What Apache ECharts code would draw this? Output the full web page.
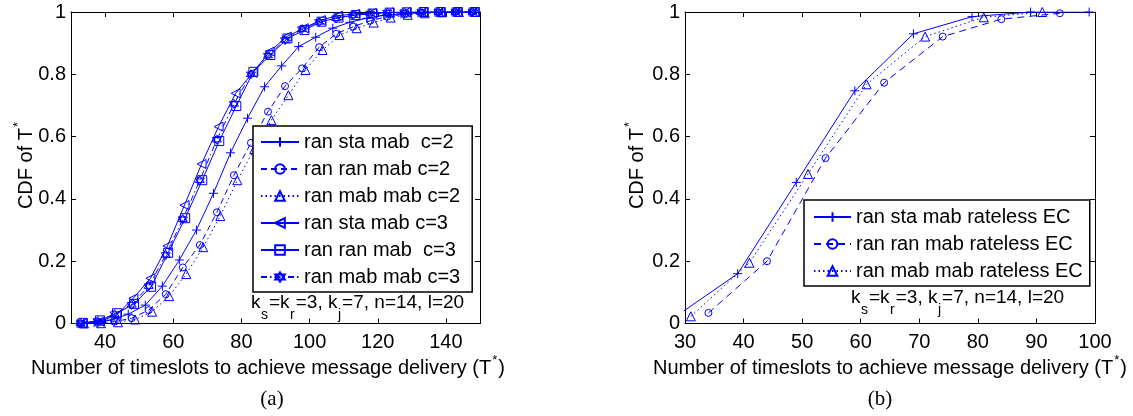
<!DOCTYPE html>
<html>
<head>
<meta charset="utf-8">
<script src="https://cdn.jsdelivr.net/npm/echarts@6/dist/echarts.min.js"></script>
<style>
  html, body { margin: 0; padding: 0; background: #fff; }
  #chart { width: 1133px; height: 416px; }
</style>
</head>
<body>
<div id="chart"></div>
<script>
// ---- (a) data: c=2 / c=3 curves ----
var namesA = ['ran sta mab  c=2', 'ran ran mab c=2', 'ran mab mab c=2',
              'ran sta mab c=3', 'ran ran mab  c=3', 'ran mab mab c=3'];

var xSta2 = [31.8, 36.8, 41.8, 46.8, 51.8, 56.8, 61.8, 66.8, 71.8, 76.8, 81.8, 86.8,
             91.8, 96.8, 101.8, 106.8, 111.8, 116.8, 121.8, 126.8, 131.8, 136.8, 141.8, 146.8];
var ySta2 = [0, 0.003, 0.011, 0.03, 0.059, 0.12, 0.204, 0.30, 0.418, 0.548, 0.659, 0.76,
             0.827, 0.889, 0.919, 0.948, 0.967, 0.98, 0.989, 0.994, 0.997, 0.999, 1, 1];

var xRan2 = [32.8, 37.8, 42.8, 47.8, 52.8, 57.8, 62.8, 67.8, 72.8, 77.8, 82.8, 87.8,
             92.8, 97.8, 102.8, 107.8, 112.8, 117.8, 122.8, 127.8, 132.8, 137.8, 142.8, 147.8];
var yRan2 = [0, 0.002, 0.006, 0.017, 0.043, 0.094, 0.18, 0.252, 0.357, 0.476, 0.58, 0.68,
             0.762, 0.819, 0.887, 0.93, 0.953, 0.972, 0.985, 0.993, 0.997, 0.999, 1, 1];

var xMab2 = [33.8, 38.8, 43.8, 48.8, 53.8, 58.8, 63.8, 68.8, 73.8, 78.8, 83.8, 88.8,
             93.8, 98.8, 103.8, 108.8, 113.8, 118.8, 123.8, 128.8, 133.8, 138.8, 143.8, 148.8];
var yMab2 = [0, 0.001, 0.004, 0.013, 0.038, 0.088, 0.159, 0.245, 0.345, 0.46, 0.56, 0.653,
             0.733, 0.814, 0.878, 0.926, 0.948, 0.966, 0.982, 0.991, 0.996, 0.999, 1, 1];

var xSta3 = [33.3, 38.3, 43.3, 48.3, 53.3, 58.3, 63.3, 68.3, 73.3, 78.3, 83.3, 88.3,
             93.3, 98.3, 103.3, 108.3, 113.3, 118.3, 123.3, 128.3, 133.3, 138.3, 143.3, 148.3];
var ySta3 = [0.001, 0.006, 0.027, 0.081, 0.145, 0.249, 0.38, 0.512, 0.632, 0.739, 0.805, 0.873,
             0.921, 0.948, 0.974, 0.988, 0.994, 0.997, 0.999, 1, 1, 1, 1, 1];

var xRan3 = [33.5, 38.5, 43.5, 48.5, 53.5, 58.5, 63.5, 68.5, 73.5, 78.5, 83.5, 88.5,
             93.5, 98.5, 103.5, 108.5, 113.5, 118.5, 123.5, 128.5, 133.5, 138.5, 143.5, 148.5];
var yRan3 = [0.002, 0.01, 0.033, 0.063, 0.118, 0.227, 0.338, 0.46, 0.586, 0.698, 0.808, 0.862,
             0.915, 0.942, 0.969, 0.982, 0.99, 0.995, 0.998, 0.999, 1, 1, 1, 1];

var xMab3 = [32.8, 37.8, 42.8, 47.8, 52.8, 57.8, 62.8, 67.8, 72.8, 77.8, 82.8, 87.8,
             92.8, 97.8, 102.8, 107.8, 112.8, 117.8, 122.8, 127.8, 132.8, 137.8, 142.8, 147.8];
var yMab3 = [0.001, 0.008, 0.03, 0.06, 0.12, 0.22, 0.335, 0.46, 0.59, 0.705, 0.8, 0.86,
             0.91, 0.945, 0.968, 0.98, 0.99, 0.995, 0.998, 0.999, 1, 1, 1, 1];

var xTicksA = [40, 60, 80, 100, 120, 140];

// ---- (b) data: rateless EC ----
var namesB = ['ran sta mab rateless EC', 'ran ran mab rateless EC', 'ran mab mab rateless EC'];

var xStaEC = [29, 39, 49, 59, 69, 79, 89, 99];
var yStaEC = [0.03, 0.16, 0.453, 0.747, 0.93, 0.985, 1, 1];

var xRanEC = [34, 44, 54, 64, 74, 84, 94];
var yRanEC = [0.034, 0.2, 0.531, 0.773, 0.921, 0.977, 0.996];

var xMabEC = [31, 41, 51, 61, 71, 81, 91];
var yMabEC = [0.023, 0.195, 0.48, 0.768, 0.921, 0.983, 1];

var yTicks = [0, 0.2, 0.4, 0.6, 0.8, 1];

// ---- styles ----
var BLUE = '#0000ff';
var FONT = 'Liberation Sans, Arial, Helvetica, sans-serif';
var PLUS = 'path://M0,5L10,5M5,0L5,10';
var TRI_L = 'path://M0,5L9,0L9,10Z';
var TRI_U = 'path://M5,0L10,9L0,9Z';
var HEXA = 'path://M5,0L9.33,7.5L0.67,7.5ZM5,10L0.67,2.5L9.33,2.5Z';

function zip(xs, ys) {
    return xs.map(function (x, i) { return [x, ys[i]]; });
}

function mkLine(name, xs, ys, symbol, dash, idx) {
    return {
        name: name,
        type: 'line',
        xAxisIndex: idx,
        yAxisIndex: idx,
        data: zip(xs, ys),
        symbol: symbol,
        symbolSize: symbol === 'circle' ? 7 : 9,
        showAllSymbol: true,
        clip: true,
        lineStyle: { color: BLUE, width: 1, type: dash },
        itemStyle: { color: 'rgba(0,0,0,0)', borderColor: BLUE, borderWidth: 1 },
        emphasis: { disabled: true }
    };
}

function xAxisPair(gi, min, max, interval, custom) {
    var tick = { inside: true, length: 5, lineStyle: { color: '#000' } };
    var lab = { color: '#000', fontSize: 20, fontFamily: FONT, margin: 9 };
    if (custom) { tick.customValues = custom; lab.customValues = custom; }
    var base = {
        type: 'value', gridIndex: gi, min: min, max: max, interval: interval,
        axisLine: { show: true, onZero: false, lineStyle: { color: '#000', width: 1 } },
        splitLine: { show: false }
    };
    var bottom = Object.assign({}, base, { position: 'bottom', axisTick: tick, axisLabel: lab });
    var top = Object.assign({}, base, { position: 'top', axisTick: tick, axisLabel: { show: false } });
    return [bottom, top];
}

function yAxisPair(gi) {
    var tick = { inside: true, length: 5, lineStyle: { color: '#000' } };
    var base = {
        type: 'value', gridIndex: gi, min: 0, max: 1, interval: 0.2,
        axisLine: { show: true, onZero: false, lineStyle: { color: '#000', width: 1 } },
        splitLine: { show: false }
    };
    var left = Object.assign({}, base, {
        position: 'left', axisTick: tick,
        axisLabel: { color: '#000', fontSize: 20, fontFamily: FONT, margin: 5,
                     customValues: yTicks, formatter: function (v) { return String(+v.toFixed(1)); } }
    });
    var right = Object.assign({}, base, { position: 'right', axisTick: tick, axisLabel: { show: false } });
    return [left, right];
}

var xa = xAxisPair(0, 30, 150, 10, xTicksA);
var xb = xAxisPair(1, 30, 100, 10, null);
var ya = yAxisPair(0);
var yb = yAxisPair(1);

// measure text so sub-scripted pieces can be chained left to right
var measureCtx = document.createElement('canvas').getContext('2d');
function textW(s, size) {
    measureCtx.font = size + 'px ' + FONT;
    return measureCtx.measureText(s).width;
}

// "k_s=k_r=3, k_j=7, n=14, l=20" as separate text pieces
function paramTexts(pieces, x0, yMain) {
    var out = [], x = x0;
    pieces.forEach(function (p, i) {
        var sub = i % 2 === 1;
        var size = sub ? 14 : 19;
        out.push({
            type: 'text', x: x, y: sub ? yMain + 12 : yMain, silent: true, z: 10,
            style: { text: p, fontSize: size, fontFamily: FONT, fill: '#000',
                     align: 'left', verticalAlign: 'middle' }
        });
        x += textW(p, size) + (sub ? 1 : 0.5);
    });
    return out;
}

function supText(main, tail, x, y, rot, size) {
    return {
        type: 'text', x: x, y: y, rotation: rot || 0, silent: true,
        style: {
            text: '{a|' + main + '}{b|*}{a|' + tail + '}',
            align: 'center', verticalAlign: 'middle',
            rich: {
                a: { fontSize: size, fontFamily: FONT, fill: '#000', lineHeight: 28 },
                b: { fontSize: 13, fontFamily: FONT, fill: '#000', lineHeight: 13, padding: [0, 1, 15, 1] }
            }
        }
    };
}

var paramPieces = ['k', 's', '=k', 'r', '=3, k', 'j', '=7, n=14, l=20'];
var xTitle = 'Number of timeslots to achieve message delivery (T';

var graphics = []
    .concat(paramTexts(paramPieces, 251, 303))
    .concat(paramTexts(paramPieces, 851, 298))
    .concat([
        supText('CDF of T', '', 26, 165, Math.PI / 2, 20),
        supText('CDF of T', '', 637, 165, Math.PI / 2, 20),
        supText(xTitle, ')', 268, 368, 0, 20),
        supText(xTitle, ')', 890, 368, 0, 20),
        { type: 'text', x: 272, y: 399, silent: true,
          style: { text: '(a)', fontSize: 21, fontFamily: 'Liberation Serif, Times New Roman, serif',
                   fill: '#000', align: 'center', verticalAlign: 'middle' } },
        { type: 'text', x: 880, y: 399, silent: true,
          style: { text: '(b)', fontSize: 21, fontFamily: 'Liberation Serif, Times New Roman, serif',
                   fill: '#000', align: 'center', verticalAlign: 'middle' } }
    ]);

var chart = echarts.init(document.getElementById('chart'), null, { renderer: 'canvas' });
chart.setOption({
    animation: false,
    backgroundColor: '#fff',
    grid: [
        { left: 71, top: 12, width: 409, height: 311.5 },
        { left: 685, top: 12, width: 410, height: 311.5 }
    ],
    xAxis: [xa[0], xa[1], xb[0], xb[1]],
    yAxis: [ya[0], ya[1], yb[0], yb[1]],
    legend: [
        {
            data: namesA, orient: 'vertical', left: 253, top: 126,
            itemWidth: 38, itemHeight: 12, itemGap: 7,
            padding: [6, 12, 5, 7], selectedMode: false,
            backgroundColor: '#fff', borderColor: '#000', borderWidth: 1.5,
            textStyle: { color: '#000', fontSize: 20, fontFamily: FONT }
        },
        {
            data: namesB, orient: 'vertical', left: 804, top: 200,
            itemWidth: 37, itemHeight: 12, itemGap: 7,
            padding: [7, 7, 5, 9], selectedMode: false,
            backgroundColor: '#fff', borderColor: '#000', borderWidth: 1.5,
            textStyle: { color: '#000', fontSize: 20, fontFamily: FONT }
        }
    ],
    series: [
        mkLine(namesA[0], xSta2, ySta2, PLUS, 'solid', 0),
        mkLine(namesA[1], xRan2, yRan2, 'circle', [6, 4], 0),
        mkLine(namesA[2], xMab2, yMab2, TRI_U, [1.5, 3], 0),
        mkLine(namesA[3], xSta3, ySta3, TRI_L, 'solid', 0),
        mkLine(namesA[4], xRan3, yRan3, 'rect', 'solid', 0),
        mkLine(namesA[5], xMab3, yMab3, HEXA, [6, 3, 1.5, 3], 0),
        // (b) uses axis index 2 (bottom x / left y of grid 1)
        mkLine(namesB[0], xStaEC, yStaEC, PLUS, 'solid', 2),
        mkLine(namesB[1], xRanEC, yRanEC, 'circle', [7, 5], 2),
        mkLine(namesB[2], xMabEC, yMabEC, TRI_U, [1.5, 3], 2)
    ],
    graphic: graphics
});
window.addEventListener('resize', function () { chart.resize(); });
</script>
</body>
</html>
